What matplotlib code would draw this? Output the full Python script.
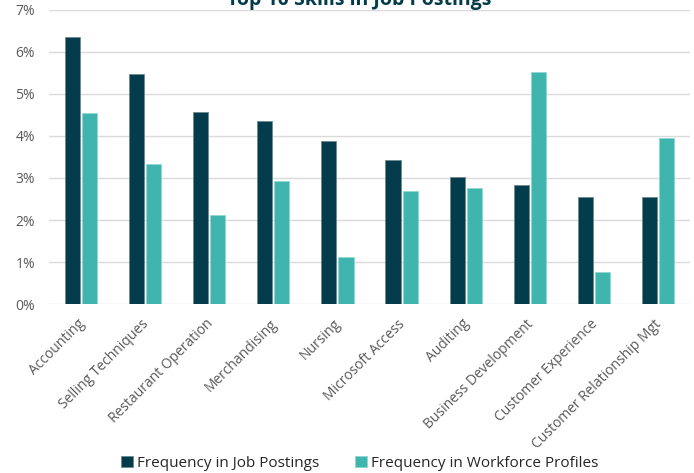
import numpy as np
import matplotlib.pyplot as plt
from matplotlib.ticker import PercentFormatter
from matplotlib.transforms import ScaledTranslation

plt.rcParams['font.family'] = ['Open Sans', 'DejaVu Sans']

skills = ['Accounting', 'Selling Techniques', 'Restaurant Operation', 'Merchandising',
          'Nursing', 'Microsoft Access', 'Auditing', 'Business Development',
          'Customer Experience', 'Customer Relationship Mgt']
job_postings = [6.36, 5.48, 4.56, 4.36, 3.88, 3.42, 3.02, 2.83, 2.55, 2.55]
workforce = [4.55, 3.33, 2.13, 2.92, 1.12, 2.69, 2.76, 5.52, 0.76, 3.95]

dark = '#033c4a'
teal = '#40b5ad'
grey = '#595959'

fig = plt.figure(figsize=(6.94, 4.73), dpi=100)
ax = fig.add_axes([49/694, 1 - 304/473, 641/694, 294/473])

x = np.arange(len(skills))
w = 0.235
ax.bar(x - 0.133, job_postings, w, color=dark, edgecolor='#6d8a92', linewidth=0.6,
       label='Frequency in Job Postings', zorder=3)
ax.bar(x + 0.133, workforce, w, color=teal, edgecolor='#8fd8d2', linewidth=0.6,
       label='Frequency in Workforce Profiles', zorder=3)

ax.set_xlim(-0.5, len(skills) - 0.5)
ax.set_ylim(0, 7)
ax.set_yticks(range(0, 8))
ax.yaxis.set_major_formatter(PercentFormatter(decimals=0))
ax.grid(axis='y', color='#dadada', linewidth=1, zorder=0)
for s in ax.spines.values():
    s.set_visible(False)
ax.tick_params(length=0, labelsize=10, labelcolor=grey)
ax.tick_params(axis='y', pad=10)
ax.tick_params(axis='x', pad=9)
ax.set_xticks(x)
ax.set_xticklabels(skills, rotation=45, ha='right', rotation_mode='anchor')
shift = ScaledTranslation(-4/100, 0, fig.dpi_scale_trans)
for lbl in ax.get_xticklabels():
    lbl.set_transform(lbl.get_transform() + shift)

fig.text(359/694, 1 - 5/473, 'Top 10 Skills in Job Postings', ha='center', va='baseline',
         fontsize=14, fontweight='bold', color=dark)

ax.legend(loc='center', bbox_to_anchor=(360/694, 1 - 463/473), bbox_transform=fig.transFigure,
          ncol=2, frameon=False, fontsize=11, handlelength=0.75, handleheight=0.75,
          columnspacing=2.35, handletextpad=0.3, labelcolor='#262626')

fig.savefig('out.png', dpi=100)
